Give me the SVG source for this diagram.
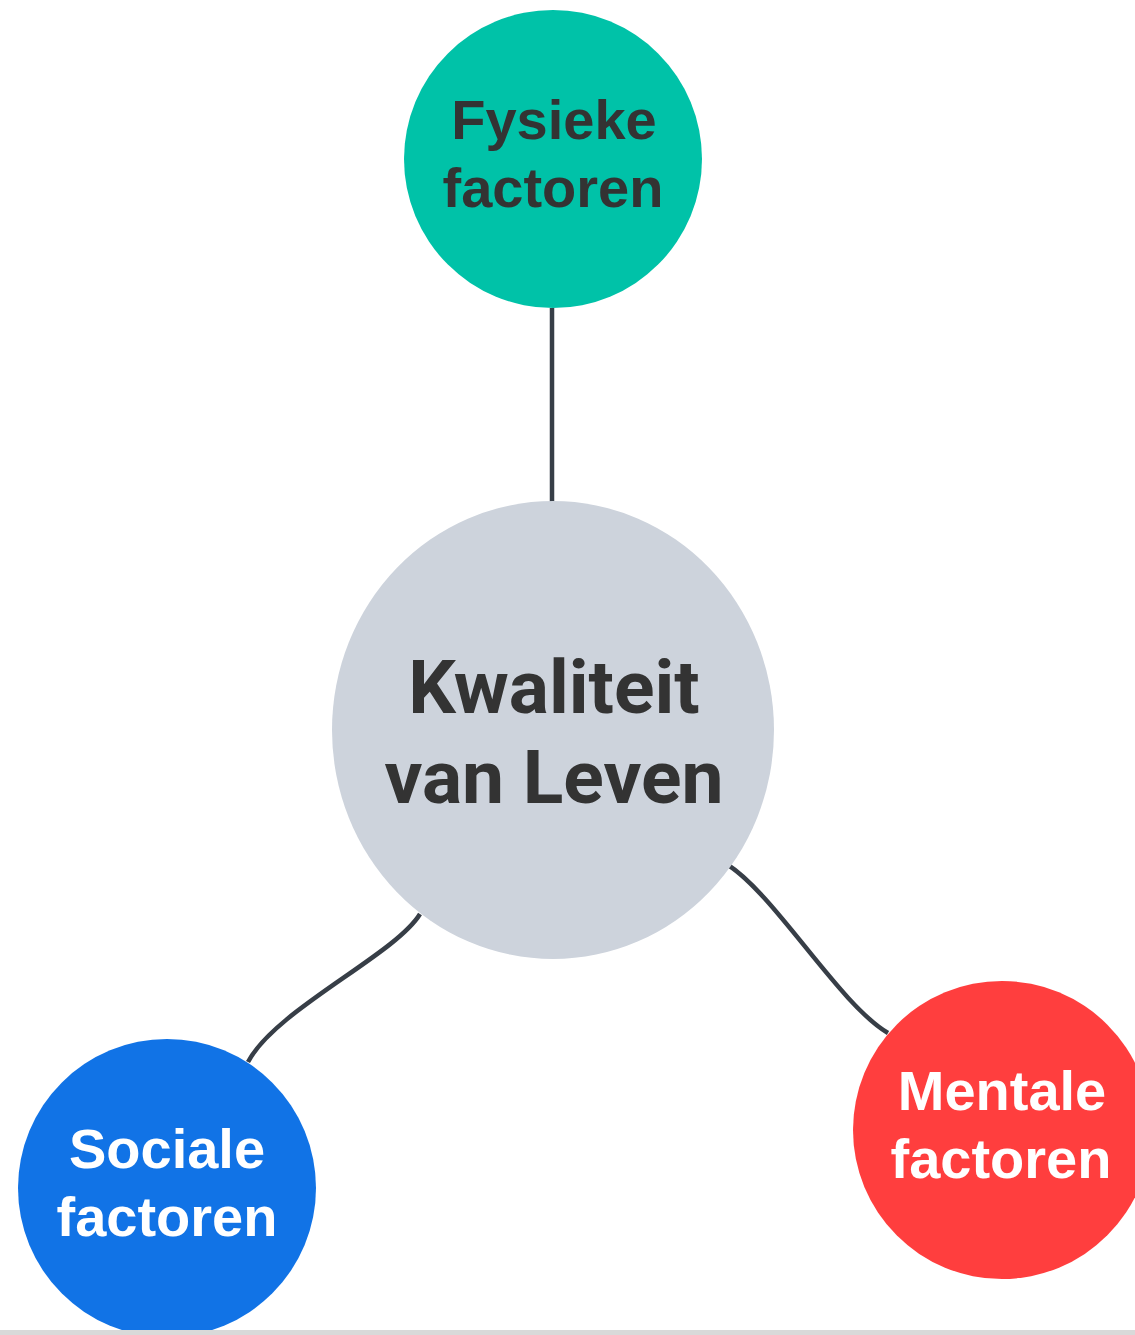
<svg xmlns="http://www.w3.org/2000/svg" width="1135" height="1335" viewBox="0 0 1135 1335">
<style>
.conn{fill:none;stroke:#373e47;stroke-width:4.5;stroke-linecap:butt}
.lbl{font-family:"Liberation Sans",Arial,sans-serif;font-weight:bold;font-size:56px;text-anchor:middle}
.main{font-family:Roboto,"Liberation Sans",sans-serif;font-weight:bold;font-size:75px;text-anchor:middle;fill:#333333}
</style>
<rect width="1135" height="1335" fill="#ffffff"/>
<g id="connectors">
<path class="conn" d="M552,308 L552,502"/>
<path class="conn" d="M420,914 C395,955 275,1010 248,1062"/>
<path class="conn" d="M728,865 C775,895 840,1005 888,1033"/>
</g>
<g id="node-center">
<ellipse cx="553" cy="730" rx="221" ry="229" fill="#cdd3dc"/>
<text class="main" x="554" y="713">Kwaliteit</text>
<text class="main" x="554" y="803">van Leven</text>
</g>
<g id="node-fysieke">
<circle cx="553" cy="159" r="149" fill="#00c2a8"/>
<text class="lbl" x="554" y="139" fill="#333333">Fysieke</text>
<text class="lbl" x="553" y="207" fill="#333333">factoren</text>
</g>
<g id="node-sociale">
<circle cx="167" cy="1188" r="149" fill="#1173e6"/>
<text class="lbl" x="167" y="1168" fill="#ffffff">Sociale</text>
<text class="lbl" x="167" y="1236" fill="#ffffff">factoren</text>
</g>
<g id="node-mentale">
<circle cx="1002" cy="1130" r="149" fill="#ff3e3e"/>
<text class="lbl" x="1002" y="1110" fill="#ffffff">Mentale</text>
<text class="lbl" x="1001" y="1178" fill="#ffffff">factoren</text>
</g>
<rect x="0" y="1330" width="1135" height="5" fill="#d9d9d9"/>
</svg>
